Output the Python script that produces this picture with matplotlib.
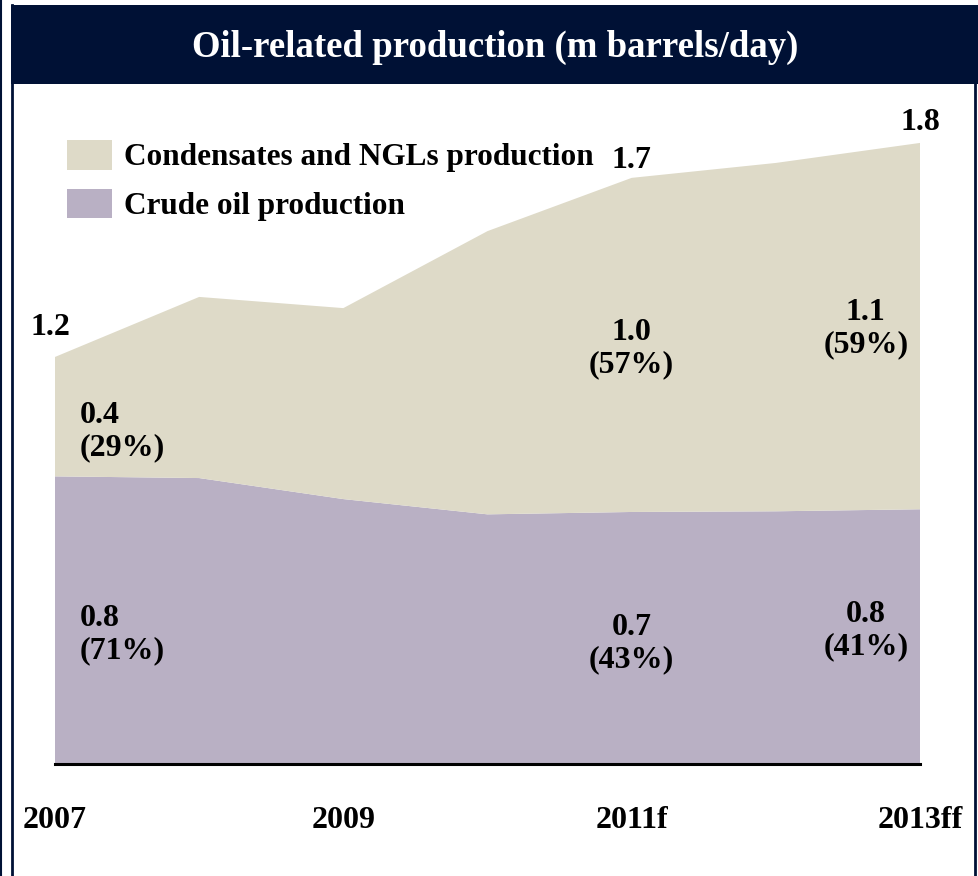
import matplotlib
matplotlib.use("Agg")
import matplotlib.pyplot as plt
from matplotlib.patches import Rectangle
from matplotlib.lines import Line2D
import numpy as np

# Oil-related production, m barrels/day
years = ["2007", "2008", "2009", "2010", "2011f", "2012", "2013ff"]
tick_labels = ["2007", "", "2009", "", "2011f", "", "2013ff"]
crude_oil = [0.848, 0.843, 0.781, 0.736, 0.743, 0.745, 0.751]
total = [1.200, 1.377, 1.344, 1.571, 1.728, 1.772, 1.831]
condensates = [t - c for t, c in zip(total, crude_oil)]

series_names = ["Condensates and NGLs production", "Crude oil production"]
col_cond = "#DEDAC8"
col_crude = "#B9B0C4"
navy = "#001135"

W, H = 979, 876
fig = plt.figure(figsize=(W / 100, H / 100), dpi=100)
fig.patch.set_facecolor("white")
serif = "Liberation Serif"
fs = 23

def fx(px):
    return px / W

def fy(py):
    return 1 - py / H

# frame and header
fig.add_artist(Rectangle((fx(11), fy(84)), fx(979 - 11), 79 / H, transform=fig.transFigure,
                         facecolor=navy, edgecolor="none", zorder=0))
fig.add_artist(Line2D([fx(1), fx(1)], [0, 1], transform=fig.transFigure, color=navy, lw=1.5))
fig.add_artist(Line2D([fx(12), fx(12)], [0, fy(5)], transform=fig.transFigure, color=navy, lw=2))
fig.add_artist(Line2D([fx(975), fx(975)], [0, fy(84)], transform=fig.transFigure, color=navy, lw=2))
fig.text(fx(495), fy(47), "Oil-related production (m barrels/day)", color="white",
         fontsize=26.5, fontweight="bold", family=serif, ha="center", va="center")

x = np.arange(len(years))
ax = fig.add_axes([fx(55), fy(764), fx(920 - 55), (764 - 85.6) / H])
ax.stackplot(x, crude_oil, condensates, colors=[col_crude, col_cond], linewidth=0)
ax.set_xlim(0, len(years) - 1)
ax.set_ylim(0, 2.0)
ax.axhline(0, color="black", lw=2.2, clip_on=False)
for s in ax.spines.values():
    s.set_visible(False)
ax.set_yticks([])
ax.set_xticks(x)
ax.set_xticklabels(tick_labels)
ax.tick_params(axis="x", length=0, pad=30)
for lbl in ax.get_xticklabels():
    lbl.set_fontfamily(serif)
    lbl.set_fontweight("bold")
    lbl.set_fontsize(fs)
ax.set_facecolor("none")

# legend
handles = [Rectangle((0, 0), 1, 1, facecolor=col_cond, edgecolor="none"),
           Rectangle((0, 0), 1, 1, facecolor=col_crude, edgecolor="none")]
leg = fig.legend(handles, series_names, loc="upper left", bbox_to_anchor=(fx(67), fy(140)),
                 frameon=False, prop={"family": serif, "weight": "bold", "size": 22.5},
                 handlelength=1.43, handleheight=1.08, handletextpad=0.38, labelspacing=0.52,
                 borderpad=0, borderaxespad=0)

tkw = dict(family=serif, fontweight="bold", fontsize=fs, color="black")
lab_off = dict(textcoords="offset points")

def tot_label(i, text, dx, dy, ha="center"):
    ax.annotate(text, (x[i], total[i]), xytext=(dx, dy), ha=ha, va="bottom", **lab_off, **tkw)

tot_label(0, f"{total[0]:.1f}", -3, 11)
tot_label(4, f"{total[4]:.1f}", 0, 2)
tot_label(6, f"{total[6]:.1f}", 0, 4)

def share_label(i, val, tot, ypos, dx, ha):
    pct = round(100 * val / tot)
    ax.annotate(f"{val:.1f}\n({pct}%)", (x[i], ypos), xytext=(dx, 0), ha=ha, va="center",
                linespacing=1.15, **lab_off, **tkw)

share_label(0, condensates[0], total[0], 0.98, 18, "left")
share_label(0, crude_oil[0], total[0], 0.382, 18, "left")
share_label(4, condensates[4], total[4], 1.225, 0, "center")
share_label(4, crude_oil[4], total[4], 0.355, 0, "center")
share_label(6, condensates[6], total[6], 1.284, -39, "center")
share_label(6, crude_oil[6], total[6], 0.392, -39, "center")

fig.savefig("out.png", dpi=100, facecolor="white")
